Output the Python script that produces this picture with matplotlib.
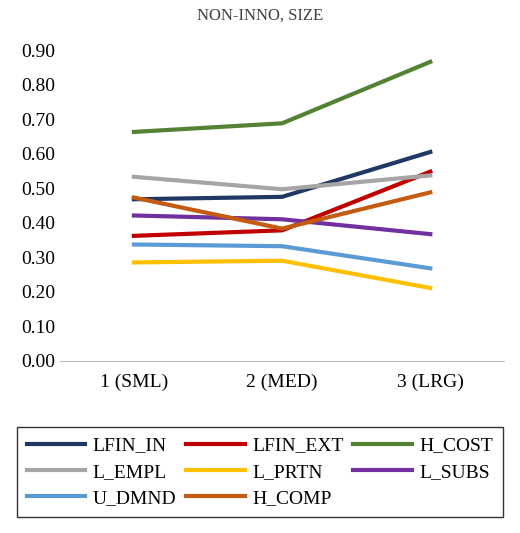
import matplotlib.pyplot as plt
from matplotlib.ticker import FormatStrFormatter

plt.rcParams['font.family'] = ['Liberation Serif', 'DejaVu Serif']

categories = ["1 (SML)", "2 (MED)", "3 (LRG)"]
series = {
    "LFIN_IN": [0.468, 0.475, 0.605],
    "LFIN_EXT": [0.362, 0.378, 0.548],
    "H_COST": [0.663, 0.688, 0.866],
    "L_EMPL": [0.533, 0.497, 0.537],
    "L_PRTN": [0.285, 0.290, 0.211],
    "L_SUBS": [0.421, 0.410, 0.367],
    "U_DMND": [0.337, 0.332, 0.268],
    "H_COMP": [0.473, 0.383, 0.488],
}
colors = ["#203864", "#C00000", "#548235", "#A5A5A5",
          "#FFC000", "#7030A0", "#5B9BD5", "#C55A11"]

fig = plt.figure(figsize=(5.2, 5.33), dpi=100)
ax = fig.add_axes([0.115, 0.323, 0.855, 0.583])

x = range(len(categories))
for (name, vals), c in zip(series.items(), colors):
    ax.plot(x, vals, color=c, linewidth=3, label=name)

ax.set_xlim(-0.5, 2.5)
ax.set_ylim(0, 0.9)
ax.set_yticks([i / 10 for i in range(10)])
ax.yaxis.set_major_formatter(FormatStrFormatter('%.2f'))
ax.set_xticks(list(x))
ax.set_xticklabels(categories)
ax.tick_params(labelsize=14, length=0, colors='black')
ax.tick_params(axis='x', pad=9)
for s in ["top", "right", "left"]:
    ax.spines[s].set_visible(False)
ax.spines["bottom"].set_color("#BFBFBF")

fig.suptitle("NON-INNO, SIZE", y=0.985, fontsize=12, color='#404040')

# row-wise legend order for a column-filled legend
handles, labels = ax.get_legend_handles_labels()
order = [0, 3, 6, 1, 4, 7, 2, 5]
leg = fig.legend([handles[i] for i in order], [labels[i] for i in order],
                 loc="lower center", bbox_to_anchor=(0.5, 0.012), ncol=3,
                 fontsize=14, frameon=True, fancybox=False, edgecolor='black',
                 handlelength=3.0, columnspacing=0.5, handletextpad=0.4,
                 labelspacing=0.45, borderpad=0.5)

fig.savefig("out.png", dpi=100)
